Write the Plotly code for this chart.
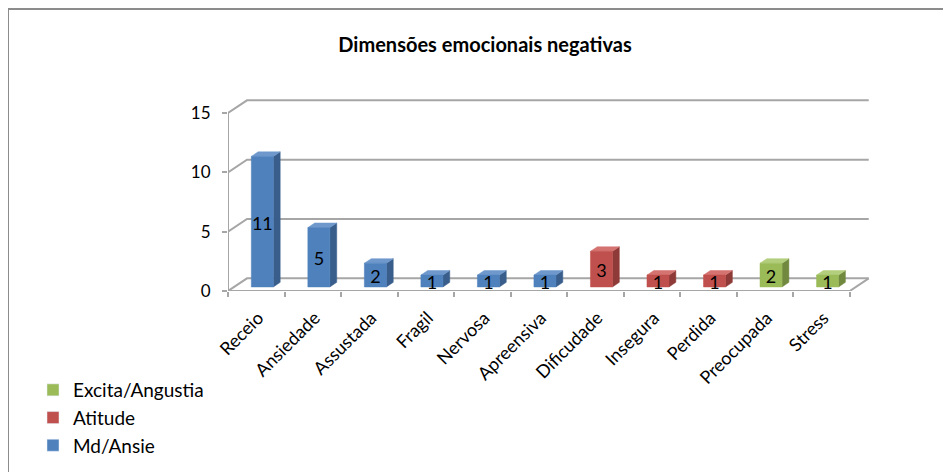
import plotly.graph_objects as go

categories = ["Receio", "Ansiedade", "Assustada", "Fragil", "Nervosa", "Apreensiva",
              "Dificudade", "Insegura", "Perdida", "Preocupada", "Stress"]
values = [11, 5, 2, 1, 1, 1, 3, 1, 1, 2, 1]
groups = ["Md/Ansie"] * 6 + ["Atitude"] * 3 + ["Excita/Angustia"] * 2
series_order = ["Excita/Angustia", "Atitude", "Md/Ansie"]
y_ticks = [0, 5, 10, 15]

colors = {
    "Md/Ansie": ("#4F81BD", "#395E8C", "#6F98CC"),
    "Atitude": ("#C0504D", "#8E3A38", "#D47370"),
    "Excita/Angustia": ("#9BBB59", "#71893F", "#B3CE7D"),
}

FONT = "Lato, Carlito, 'Liberation Sans', sans-serif"
OFF = 8                    # page body margin
W, H = 951 - OFF, 472 - OFF
L, T, B = 228 - OFF, 95 - OFF, 181
PW = 650
R = W - L - PW
PH = H - T - B
n = len(categories)
xmax = 11.5
ymax = PH / ((291 - 113) / 15)


def px_x(x):
    return (x - OFF - L) / PW


def px_y(y):
    return (H - B - (y - OFF)) / PH


dx, dy = 0.336, 1.07      # depth offset of back wall (data units)
f, d = 0.32, 0.36          # bar front plane fraction and bar depth fraction
hw = 0.195                 # bar half width

fig = go.Figure()

grid_col = "#A6A6A6"
gx, gy = [], []
for v in y_ticks:
    gx += [0, dx, n + dx, None]
    gy += [v, v + dy, v + dy, None]
gx += [0, 0, None, 0, n, n + dx, None]
gy += [y_ticks[-1], 0, None, 0, 0, dy, None]
fig.add_trace(go.Scatter(x=gx, y=gy, mode="lines", line=dict(color=grid_col, width=2),
                         hoverinfo="skip", showlegend=False))

for s in series_order:
    front, side, top = ([], []), ([], []), ([], [])
    for i, (v, g) in enumerate(zip(values, groups)):
        if g != s:
            continue
        cx = i + 0.5 + f * dx
        y0 = f * dy
        x0, x1, y1 = cx - hw, cx + hw, v + y0
        ex, ey = d * dx, d * dy
        front[0].extend([x0, x1, x1, x0, x0, None]); front[1].extend([y0, y0, y1, y1, y0, None])
        side[0].extend([x1, x1 + ex, x1 + ex, x1, x1, None]); side[1].extend([y0, y0 + ey, y1 + ey, y1, y0, None])
        top[0].extend([x0, x1, x1 + ex, x0 + ex, x0, None]); top[1].extend([y1, y1, y1 + ey, y1 + ey, y1, None])
    cf, cs, ct = colors[s]
    for (xs, ys), c in ((side, cs), (top, ct), (front, cf)):
        fig.add_trace(go.Scatter(x=xs, y=ys, mode="lines", fill="toself", fillcolor=c,
                                 line=dict(color=c, width=0.5), hoverinfo="skip", showlegend=False))

fig.add_trace(go.Scatter(
    x=[i + 0.5 + f * dx for i in range(n)],
    y=[v / 2 + f * dy - 0.3 for v in values],
    mode="text", text=[str(v) for v in values],
    textfont=dict(family=FONT, size=18, color="black"),
    hoverinfo="skip", showlegend=False))

for s in series_order:
    fig.add_trace(go.Bar(x=[None], y=[None], name=s, marker_color=colors[s][0],
                         legendgroup=s, showlegend=True))

fig.update_layout(
    width=W, height=H,
    margin=dict(l=L, r=R, t=T, b=B, autoexpand=False),
    paper_bgcolor="white", plot_bgcolor="white",
    font=dict(family=FONT, size=16, color="black"),
    title=dict(text="<b>Dimensões emocionais negativas</b>", x=px_x(485),
               xref="paper", xanchor="center", yref="container", y=1 - (45 - OFF) / H,
               yanchor="middle", font=dict(family=FONT, size=20, color="black")),
    showlegend=True,
    legend=dict(x=px_x(33), y=px_y(371), xanchor="left", yanchor="top",
                font=dict(family=FONT, size=19, color="black"), tracegroupgap=0,
                bgcolor="rgba(0,0,0,0)", itemwidth=30),
    xaxis=dict(range=[0, xmax], tickvals=[i + 0.5 for i in range(n)], ticktext=categories,
               tickangle=-45, ticks="", showgrid=False, zeroline=False, showline=False,
               tickfont=dict(family=FONT, size=18, color="black"),
               ticklabelshift=2, ticklabelstandoff=12, automargin=False),
    xaxis2=dict(range=[0, xmax], overlaying="x", side="bottom", tickvals=list(range(n + 1)),
                showticklabels=False, ticks="outside", ticklen=5, tickcolor=grid_col, tickwidth=2,
                showgrid=False, zeroline=False, showline=False),
    yaxis=dict(range=[0, ymax], tickvals=y_ticks, ticks="outside", ticklen=5, tickcolor=grid_col,
               tickwidth=2, showgrid=False, zeroline=False, showline=False, automargin=False,
               tickfont=dict(family=FONT, size=17, color="black"), ticklabelstandoff=8),
    shapes=[dict(type="rect", xref="paper", yref="paper",
                 x0=px_x(8), x1=px_x(990), y0=px_y(500), y1=px_y(9),
                 line=dict(color="#8C8C8C", width=2), layer="below")],
)
fig.add_trace(go.Scatter(x=[None], y=[None], xaxis="x2", showlegend=False, hoverinfo="skip"))

fig.write_html("out.html")
